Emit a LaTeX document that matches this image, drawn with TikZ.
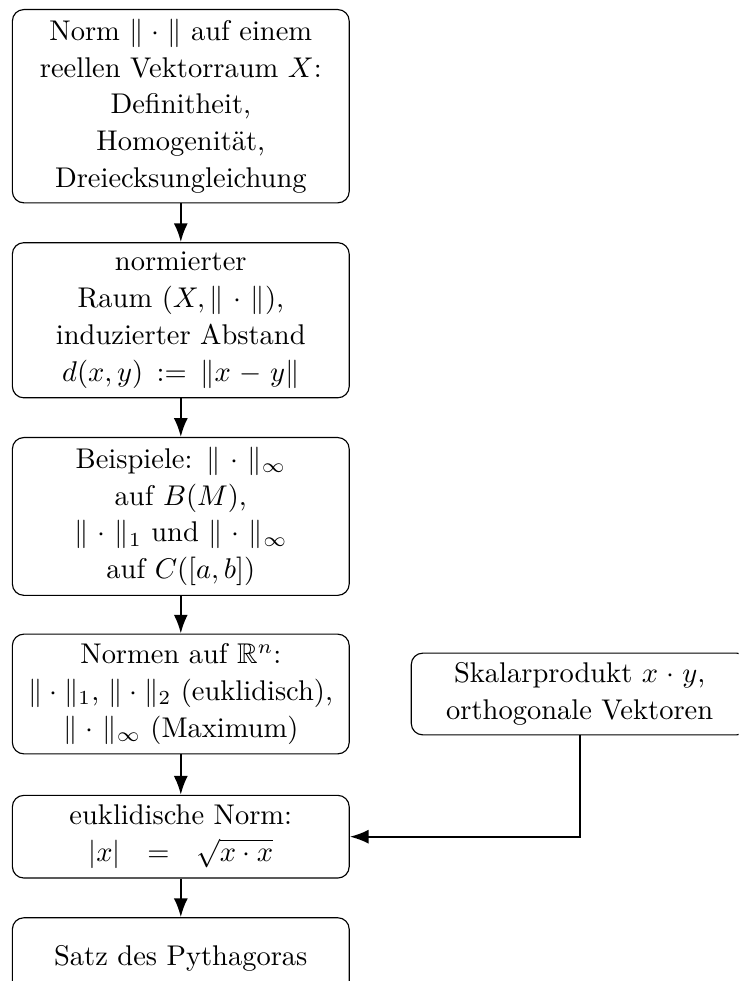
\documentclass[tikz,border=0pt]{standalone}
\usepackage{amssymb}
\usetikzlibrary{arrows.meta}

\begin{document}
\begin{tikzpicture}[>=Latex, font=\fontsize{10}{12.9}\selectfont]
  \tikzstyle{blk} = [draw, rounded corners, text width=3.92cm, align=center,
                     minimum height=1cm]

  \useasboundingbox (0,0) rectangle (9.11,-12.10);
  \clip (0,0) rectangle (9.11,-12.10);

  % linke Spalte
  \node[blk] (norm) at (2.23,-1.31) {Norm $\|\cdot\|$ auf einem\\ reellen Vektorraum $X$:\\
    Definitheit,\\ Homogenität,\\ Dreiecksungleichung};
  \node[blk] (raum) at (2.23,-3.95) {normierter\\ Raum $(X,\|\cdot\|)$,\\ induzierter Abstand\\
    $d(x,y) := \|x-y\|$};
  \node[blk] (bsp) at (2.23,-6.37) {Beispiele: $\|\cdot\|_\infty$\\ auf $B(M)$,\\
    $\|\cdot\|_1$ und $\|\cdot\|_\infty$\\ auf $C([a,b])$};
  \node[blk] (rn) at (2.23,-8.56) {Normen auf $\mathbb{R}^n$:\\
    $\|\cdot\|_1$, $\|\cdot\|_2$ (euklidisch),\\ $\|\cdot\|_\infty$ (Maximum)};
  \node[blk] (eukl) at (2.23,-10.32) {euklidische Norm:\\ $|x|\ =\ \sqrt{x\cdot x}$};
  \node[blk] (pyth) at (2.23,-11.82) {Satz des Pythagoras};

  % rechts
  \node[blk] (skalar) at (7.15,-8.56) {Skalarprodukt $x\cdot y$,\\ orthogonale Vektoren};

  \draw[->, thick] (norm) -- (raum);
  \draw[->, thick] (raum) -- (bsp);
  \draw[->, thick] (bsp) -- (rn);
  \draw[->, thick] (rn) -- (eukl);
  \draw[->, thick] (eukl) -- (pyth);
  \draw[->, thick] (skalar.south) |- (eukl.east);
\end{tikzpicture}
\end{document}
